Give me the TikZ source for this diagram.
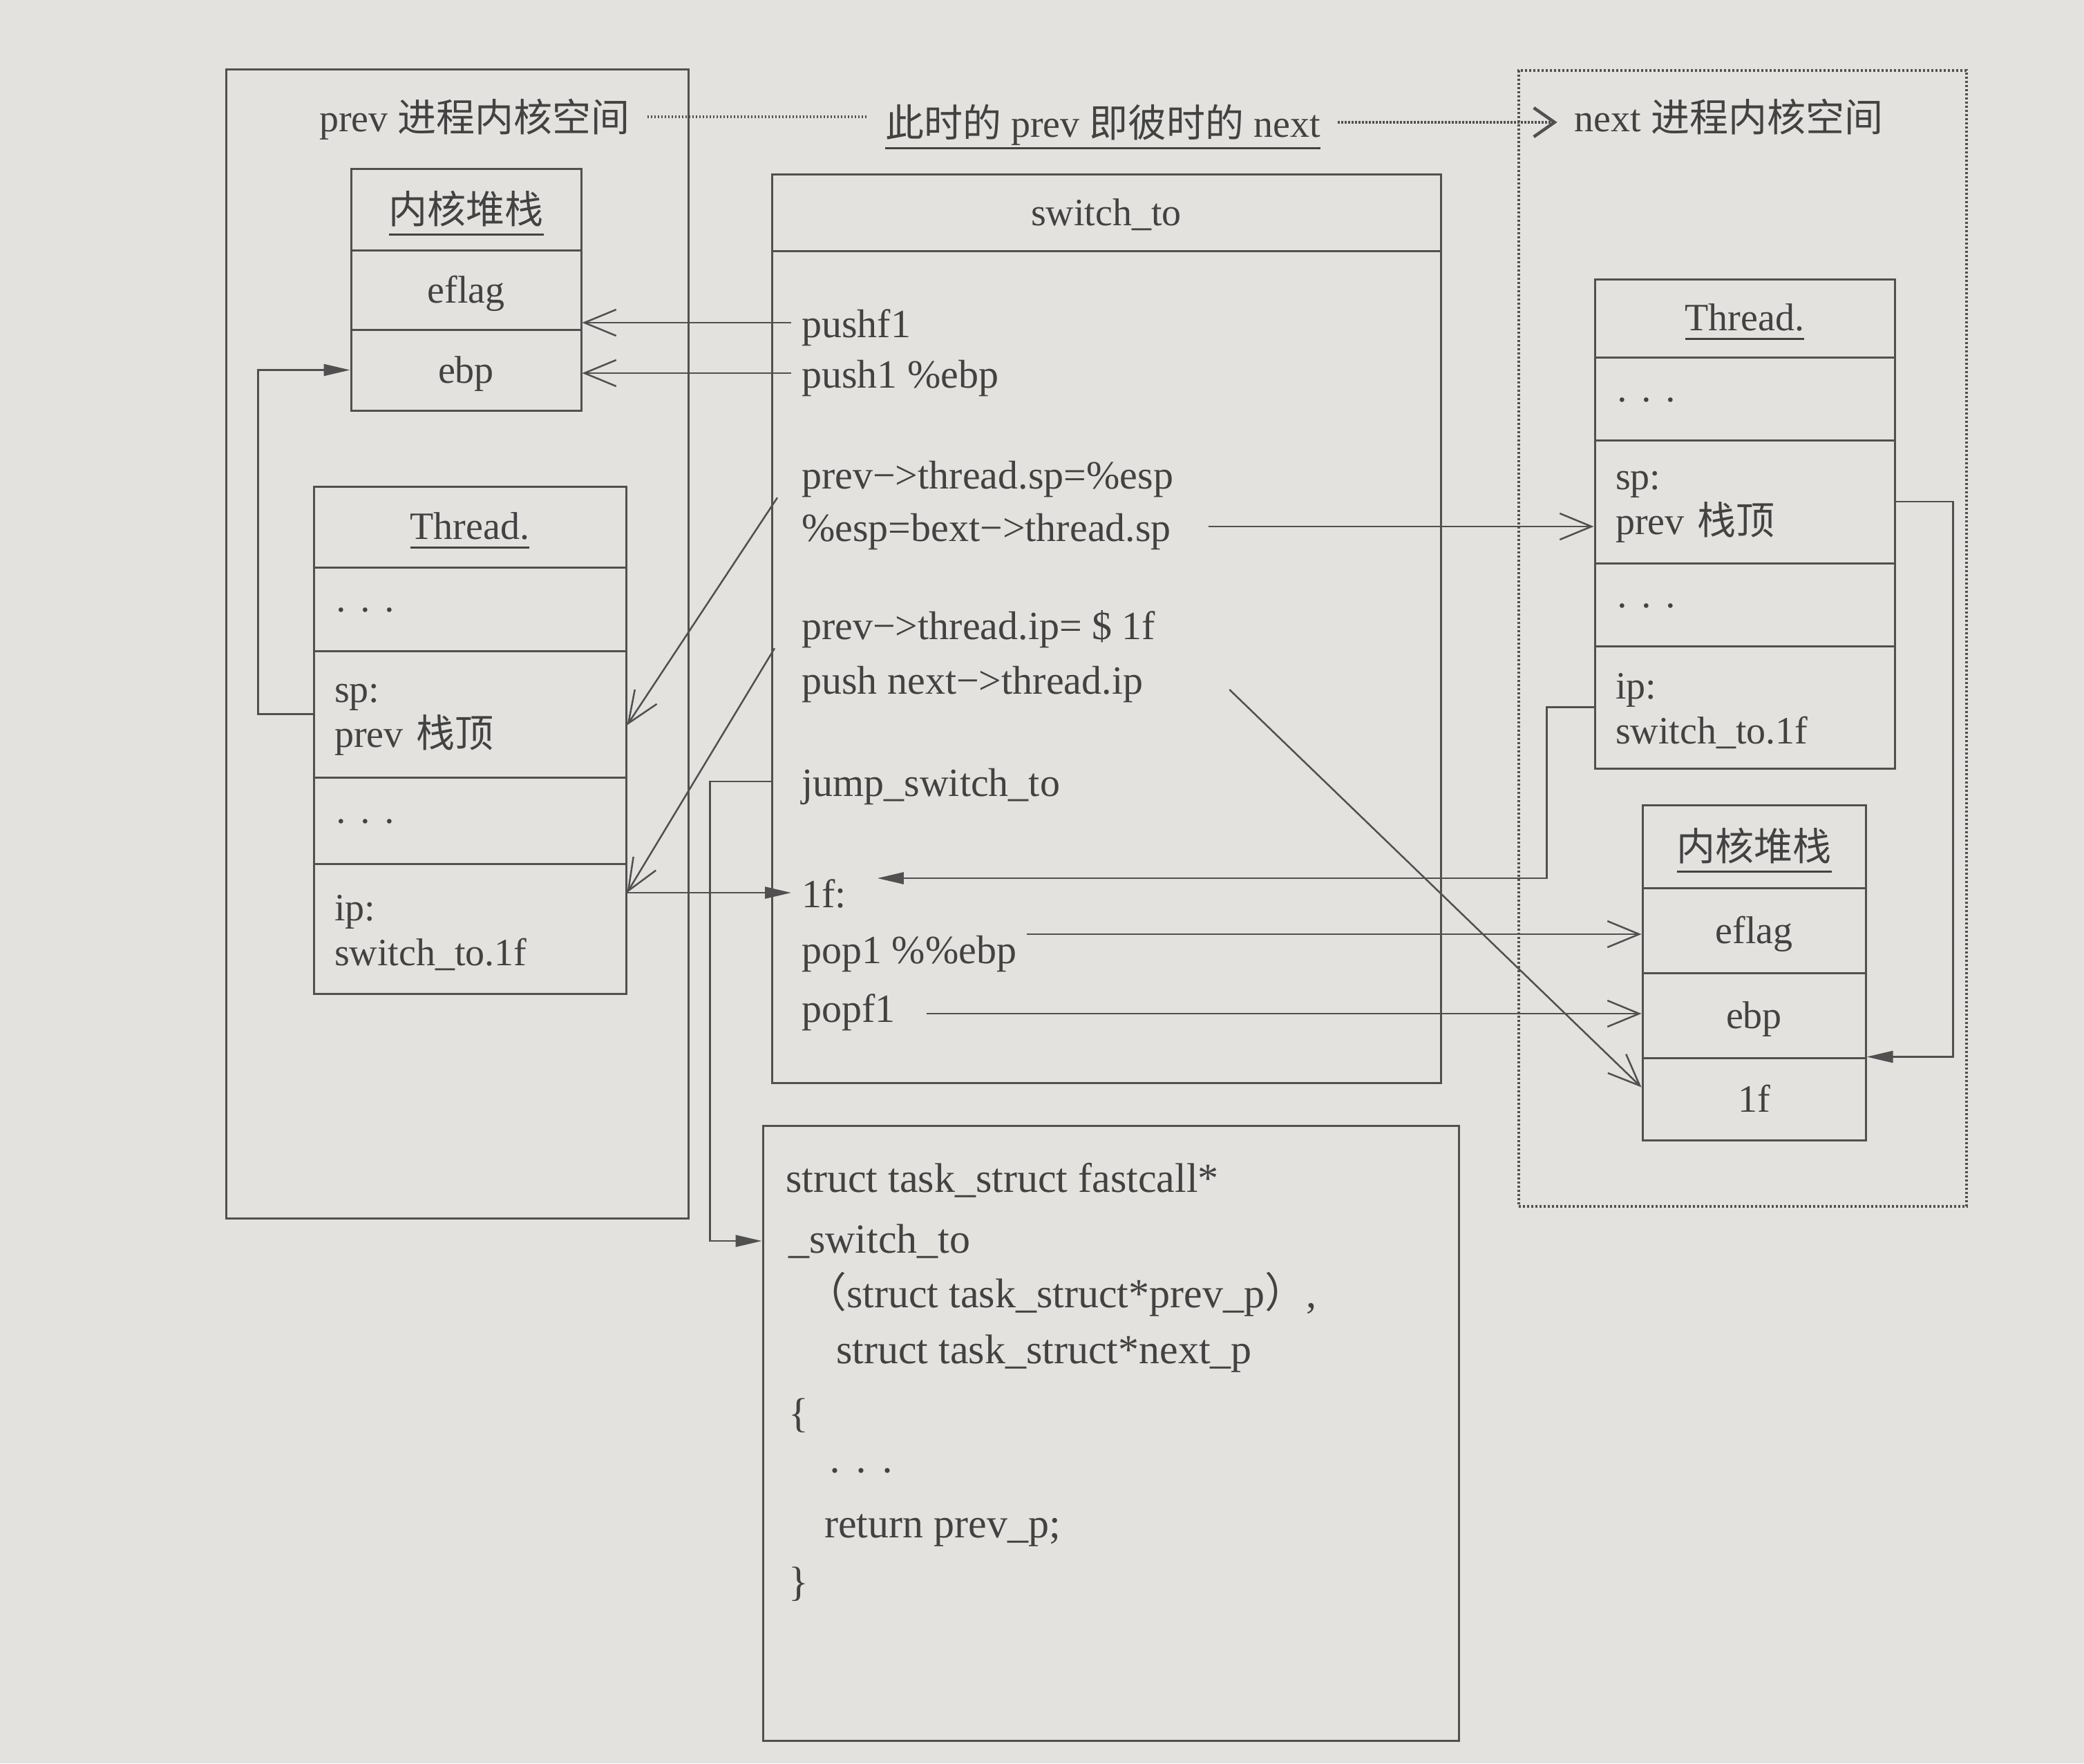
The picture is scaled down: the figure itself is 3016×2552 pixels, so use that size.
\documentclass[tikz,border=0pt]{standalone}
\usepackage{fontspec}
\setmainfont{Liberation Serif}
\newfontfamily\cjk{Noto Sans CJK SC}
\usetikzlibrary{arrows.meta,calc}
\definecolor{bgc}{RGB}{227,226,223}
\definecolor{lnc}{RGB}{80,80,80}
\definecolor{txc}{RGB}{66,66,66}
\newcommand\ulx[2][16pt]{\setbox0\hbox{#2}\rlap{\raisebox{-#1}{\rule{\wd0}{3pt}}}\box0}
\newcommand\mdots{·\hspace{0.3em}·\hspace{0.3em}·}
\begin{document}
\begin{tikzpicture}[x=1pt,y=-1pt,
  box/.style={draw=lnc, line width=3pt, inner sep=0pt, text=txc},
  cell/.style={box, font=\fontsize{56}{65}\selectfont, text height=52pt, text depth=14pt},
  cjkhead/.style={box, font=\fontsize{56}{65}\selectfont, text height=61pt, text depth=21pt},
  lathead/.style={box, font=\fontsize{56}{65}\selectfont, text height=56pt, text depth=20pt},
  lcell/.style={box, font=\fontsize{56}{65}\selectfont, align=left, inner xsep=30pt, text depth=61pt},
  dcell/.style={box, font=\fontsize{56}{65}\selectfont, align=left, inner xsep=30pt, text height=40pt, text depth=0pt},
  code/.style={anchor=west, inner xsep=15pt, inner ysep=6pt, text=txc, font=\fontsize{58}{68}\selectfont, text height=56pt, text depth=14pt},
  bcode/.style={anchor=west, inner sep=0pt, text=txc, font=\fontsize{60}{70}\selectfont, text height=46pt, text depth=12pt},
  title/.style={inner xsep=25pt, inner ysep=4pt, text=txc, font=\fontsize{56}{65}\selectfont, text height=62pt, text depth=20pt},
  con/.style={draw=lnc, line width=2.5pt},
  oarr/.style={con, -{Straight Barb[length=46pt,width=38pt]}},
  farr/.style={con, -{Triangle[length=38pt,width=17pt]}},
  dotln/.style={draw=lnc, line width=4.5pt, dash pattern=on 2.5pt off 2.5pt},
  frame/.style={draw=lnc, line width=3pt, inner sep=0pt},
  dframe/.style={draw=lnc, line width=3.5pt, inner sep=0pt, dash pattern=on 3pt off 3pt},
]
\useasboundingbox (0,0) rectangle (3016,2552);
\fill[bgc] (0,0) rectangle (3016,2552);

% frames
\node[frame, minimum width=669pt, minimum height=1663pt] (lframe) at (661.5,931.5) {};
\node[dframe, minimum width=648pt, minimum height=1644pt] (rframe) at (2522,924) {};

% top labels
\node[title] (tl) at (687,169) {prev {\cjk 进程内核空间}};
\node[title] (mid) at (1596,177) {\ulx[18pt]{{\cjk 此时的} prev {\cjk 即彼时的} next}};
\node[title] (tr) at (2502,169) {next {\cjk 进程内核空间}};
\draw[dotln] (tl.east) -- (tl.east -| mid.west);
\draw[dotln, -{Straight Barb[length=30pt,width=42pt]}] (mid.east) -- (mid.east -| tr.west);

% left kernel stack
\node[cjkhead, minimum width=333pt, minimum height=118pt] (ls-h) at (674.5,303) {{\cjk\ulx[18pt]{内核堆栈}}};
\node[cell, minimum width=333pt, minimum height=115pt] (ls-eflag) at (674.5,419.5) {eflag};
\node[cell, minimum width=333pt, minimum height=117pt] (ls-ebp) at (674.5,535.5) {ebp};

% left Thread
\node[lathead, minimum width=452pt, minimum height=117pt] (lt-h) at (680,762.5) {\ulx[13pt]{Thread.}};
\node[dcell, text width=392pt, minimum height=121pt] (lt-d1) at (680,881.5) {\mdots};
\node[lcell, text width=392pt, minimum height=183pt] (lt-sp) at (680,1033.5) {sp:\\prev {\cjk 栈顶}};
\node[dcell, text width=392pt, minimum height=125pt] (lt-d2) at (680,1187.5) {\mdots};
\node[lcell, text width=392pt, minimum height=188pt] (lt-ip) at (680,1344) {ip:\\switch\_to.1f};

% right Thread
\node[lathead, minimum width=434pt, minimum height=113pt] (rt-h) at (2525,460.5) {\ulx[13pt]{Thread.}};
\node[dcell, text width=374pt, minimum height=120pt] (rt-d1) at (2525,577) {\mdots};
\node[lcell, text width=374pt, minimum height=178pt] (rt-sp) at (2525,726) {sp:\\prev {\cjk 栈顶}};
\node[dcell, text width=374pt, minimum height=120pt] (rt-d2) at (2525,875) {\mdots};
\node[lcell, text width=374pt, minimum height=177pt] (rt-ip) at (2525,1023.5) {ip:\\switch\_to.1f};

% right kernel stack
\node[cjkhead, minimum width=323pt, minimum height=120pt] (rs-h) at (2538.5,1225) {{\cjk\ulx[18pt]{内核堆栈}}};
\node[cell, minimum width=323pt, minimum height=123pt] (rs-eflag) at (2538.5,1346.5) {eflag};
\node[cell, minimum width=323pt, minimum height=123pt] (rs-ebp) at (2538.5,1469.5) {ebp};
\node[cell, minimum width=323pt, minimum height=119pt] (rs-1f) at (2538.5,1590.5) {1f};

% switch_to box
\node[cell, minimum width=968pt, minimum height=111pt] (swhead) at (1601,307.5) {switch\_to};
\node[box, minimum width=968pt, minimum height=1204pt] (swbody) at (1601,965) {};

\node[code] (c1) at (1145,467) {pushf1};
\node[code] (c2) at (1145,540) {push1 \%ebp};
\node[code] (c3) at (1145,686) {prev−>thread.sp=\%esp};
\node[code] (c4) at (1145,762) {\%esp=bext−>thread.sp};
\node[code] (c5) at (1145,904) {prev−>thread.ip= \$ 1f};
\node[code] (c6) at (1145,983) {push next−>thread.ip};
\node[code] (c7) at (1145,1131) {jump\_switch\_to};
\node[code] (c8) at (1145,1292) {1f:};
\node[code] (c9) at (1145,1373) {pop1 \%\%ebp};
\node[code] (c10) at (1145,1458) {popf1};

% bottom code box
\node[box, minimum width=1007pt, minimum height=890pt] (bot) at (1607.5,2074) {};
\node[bcode] (b1) at (1137,1708) {struct task\_struct fastcall*};
\node[bcode] (b2) at (1141,1796) {\_switch\_to};
\node[bcode] (b3) at (1165,1875) {{\cjk （}struct task\_struct*prev\_p{\cjk ）},};
\node[bcode] (b4) at (1210,1956) {struct task\_struct*next\_p};
\node[bcode] (b5) at (1141,2048) {\{};
\node[bcode] (b6) at (1198,2131) {\mdots};
\node[bcode] (b7) at (1193,2208) {return prev\_p;};
\node[bcode] (b8) at (1141,2292) {\}};

% connectors
\draw[oarr] (c1.west) -- (c1.west -| ls-eflag.east);
\draw[oarr] (c2.west) -- (c2.west -| ls-ebp.east);
\draw[farr] (lt-sp.west) -- ++(-79,0) |- (ls-ebp.west);
\draw[oarr] ($(c3.south west)+(-20,-7)$) -- ($(lt-sp.east)+(0,16)$);
\draw[oarr] ($(c4.east)+(39,0)$) -- (c4.east -| rt-sp.west);
\draw[oarr] ($(c5.south west)+(-24,-7)$) -- (lt-ip.east |- c8.west);
\draw[oarr] ($(c6.east)+(110,15)$) -- ($(rs-1f.west)+(0,-17)$);
\draw[farr] (c7.west -| swbody.west) -- ++(-88,0) |- (b2.west -| bot.west);
\draw[farr] (lt-ip.east |- c8.west) -- (c8.west);
\coordinate (t1f) at ($(c8.east)+(30,-21)$);
\draw[farr] (rt-ip.west) -- ++(-68,0) |- (t1f);
\coordinate (p9) at ($(c9.east)+(0,-21)$);
\draw[oarr] (p9) -- (p9 -| rs-eflag.west);
\coordinate (p10) at ($(c10.east)+(30,9)$);
\draw[oarr] (p10) -- (p10 -| rs-ebp.west);
\draw[farr] (rt-sp.east) -- ++(83,0) |- (rs-1f.north east);
\end{tikzpicture}
\end{document}
